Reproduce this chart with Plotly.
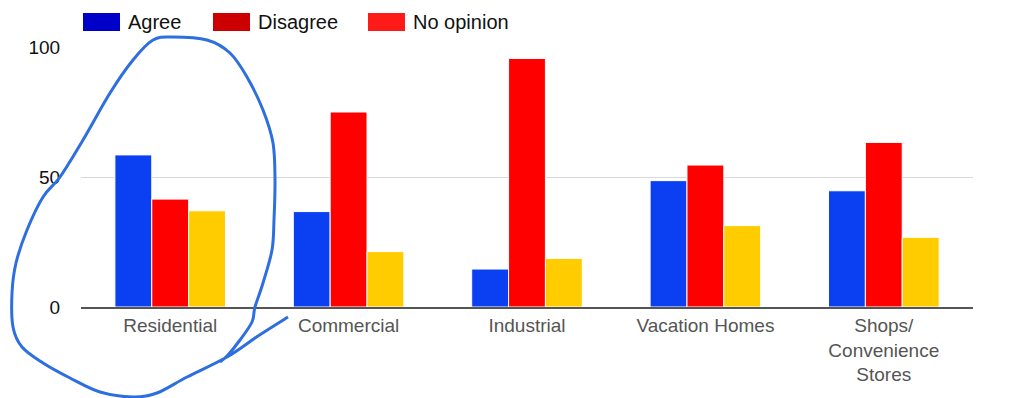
import plotly.graph_objects as go

categories = ["Residential", "Commercial", "Industrial", "Vacation Homes", "Shops/<br>Convenience<br>Stores"]
agree = [58.5, 36.7, 14.6, 48.6, 44.7]
disagree = [41.5, 75.0, 95.6, 54.6, 63.3]
no_opinion = [37.0, 21.3, 18.7, 31.3, 26.8]
y_ticks = [0, 50, 100]

legend_names = ["Agree", "Disagree", "No opinion"]
legend_colors = ["#0000c8", "#cc0000", "#ff1a1a"]
bar_colors = ["#0b40f2", "#ff0000", "#ffcc00"]

# hand-drawn circle around "Residential" (pixel coordinates of the annotation stroke)
stroke_px = [(288, 317), (258, 336), (227, 357), (187, 377), (157, 393), (133, 397), (100, 392),
             (70, 378), (43, 363), (22, 347), (13, 327), (12, 293), (16, 263), (27, 230),
             (43, 197), (60, 177), (83, 140), (110, 93), (133, 60), (153, 40), (173, 37),
             (207, 40), (230, 53), (247, 77), (263, 110), (273, 143), (275, 180), (274, 220),
             (272, 250), (263, 283), (255, 307), (252, 322), (240, 340), (228, 355), (220, 362)]

W, H = 1028, 398
L, R, T, B = 81, 55, 47, 91
pw, ph = W - L - R, H - T - B


def to_paper(p):
    return ((p[0] - L) / pw, (H - B - p[1]) / ph)


def catmull_path(pts):
    pts = [to_paper(p) for p in pts]
    d = "M %.5f,%.5f" % pts[0]
    n = len(pts)
    for i in range(n - 1):
        p0 = pts[i - 1] if i > 0 else pts[i]
        p1 = pts[i]
        p2 = pts[i + 1]
        p3 = pts[i + 2] if i + 2 < n else pts[i + 1]
        c1 = (p1[0] + (p2[0] - p0[0]) / 6, p1[1] + (p2[1] - p0[1]) / 6)
        c2 = (p2[0] - (p3[0] - p1[0]) / 6, p2[1] - (p3[1] - p1[1]) / 6)
        d += " C %.5f,%.5f %.5f,%.5f %.5f,%.5f" % (c1 + c2 + p2)
    return d


fig = go.Figure()
for name, vals, col in zip(legend_names, [agree, disagree, no_opinion], bar_colors):
    fig.add_trace(go.Bar(x=categories, y=vals, name=name, marker=dict(color=col, line=dict(color="white", width=1)),
                         showlegend=False))

shapes = []
annotations = []
# legend built manually (swatch colors differ from bars in the original)
leg_x = [83, 213, 368]
for nm, col, x0 in zip(legend_names, legend_colors, leg_x):
    a = to_paper((x0, 13))
    b = to_paper((x0 + 37, 31))
    shapes.append(dict(type="rect", xref="paper", yref="paper", x0=a[0], x1=b[0], y0=b[1], y1=a[1],
                       fillcolor=col, line=dict(width=0), layer="above"))
    t = to_paper((x0 + 43, 22))
    annotations.append(dict(text=nm, xref="paper", yref="paper", x=t[0], y=t[1], xanchor="left",
                            yanchor="middle", showarrow=False,
                            font=dict(family="Liberation Sans, Arial", size=20, color="#111")))

shapes.append(dict(type="path", xref="paper", yref="paper", path=catmull_path(stroke_px),
                   line=dict(color="#2e6fe0", width=3), layer="above"))

fig.update_layout(
    width=W, height=H,
    margin=dict(l=L, r=R, t=T, b=B),
    paper_bgcolor="white", plot_bgcolor="white",
    barmode="group", bargap=0.38, bargroupgap=0,
    shapes=shapes, annotations=annotations,
    font=dict(family="Liberation Sans, Arial"),
    xaxis=dict(showgrid=False, showline=True, linecolor="#555", linewidth=2, ticks="",
               tickfont=dict(size=19, color="#555"), zeroline=False),
    yaxis=dict(range=[0, 100], tickvals=y_ticks, showgrid=True, gridcolor="#d8d8d8", gridwidth=1,
               zeroline=False, ticks="outside", ticklen=16, tickcolor="rgba(0,0,0,0)",
               tickfont=dict(size=19, color="#111")),
)

fig.write_html("out.html")
